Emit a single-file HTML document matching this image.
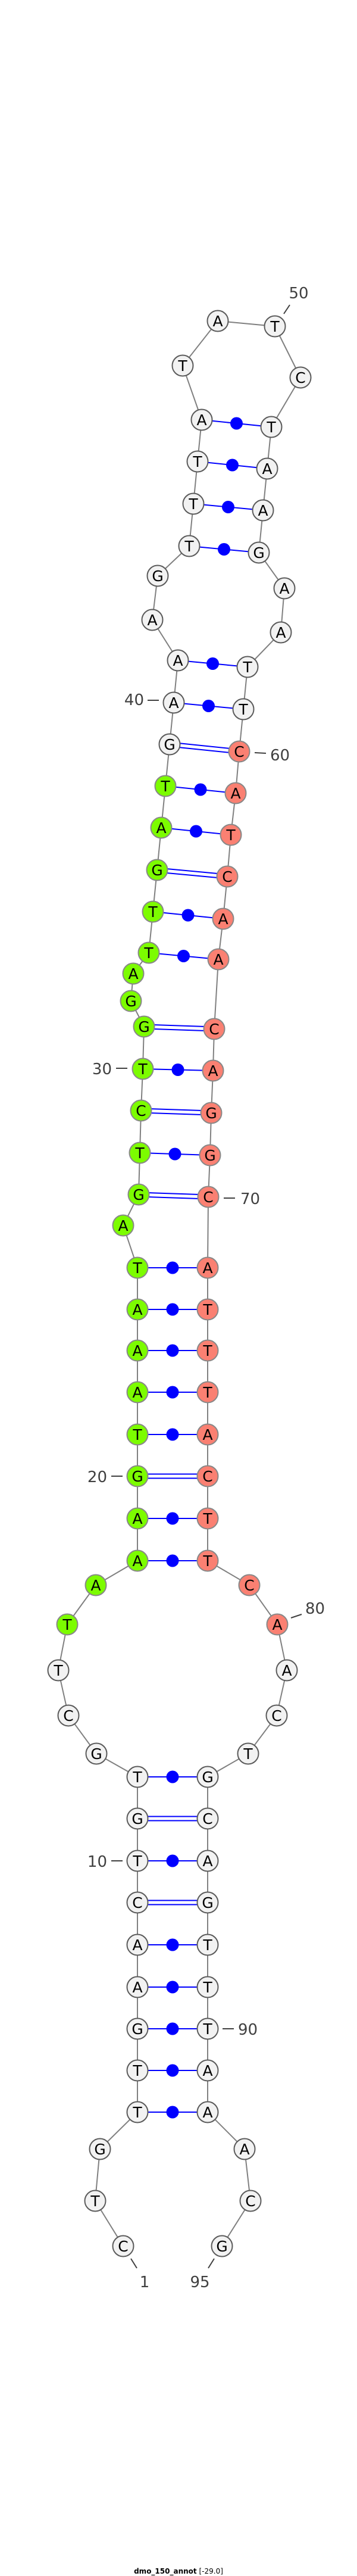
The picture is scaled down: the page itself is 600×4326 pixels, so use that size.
<!DOCTYPE html>
<html><head><meta charset="utf-8"><style>
html,body{margin:0;padding:0;background:#fff;}
svg{display:block;}
.n text{font-family:"DejaVu Sans","Liberation Sans",sans-serif;font-size:25px;text-anchor:middle;fill:#000;}
.lb{font-family:"DejaVu Sans","Liberation Sans",sans-serif;font-size:26px;fill:#404040;}
</style></head><body>
<svg width="600" height="4326" viewBox="0 0 600 4326" xmlns="http://www.w3.org/2000/svg">
<polyline fill="none" stroke="#808080" stroke-width="2" points="207,3772 160,3696 168,3609 231,3547 231,3477 231,3407 231,3337 231,3266 231,3195 231,3125 231,3054 231,2984 162,2945 115,2881 98,2805 113,2728 161,2662 231,2621 231,2550 231,2479 231,2409 231,2338 231,2268 231,2199 231,2129 207,2058 233,2006 235,1936 237,1865 240,1795 242,1724 220,1681 224,1635 250,1600 257,1531 264,1461 271,1390 278,1320 285,1250 292,1180 299,1109 256,1041 265,967 318,917 325,846 332,775 339,705 307,614 366,539 462,548 505,634 456,717 449,787 442,857 435,928 478,988 472,1062 416,1120 409,1191 402,1262 396,1332 388,1402 382,1472 375,1543 367,1611 360,1728 358,1798 355,1869 353,1940 350,2010 349,2129 349,2199 349,2268 349,2338 349,2409 349,2479 349,2550 349,2621 419,2662 466,2728 482,2805 465,2881 417,2945 349,2984 349,3054 349,3125 349,3195 349,3266 349,3337 349,3407 349,3477 349,3547 411,3609 421,3696 373,3772"/>
<g stroke="#0000ff" stroke-width="2">
<line x1="231" y1="3547" x2="349" y2="3547"/>
<line x1="231" y1="3477" x2="349" y2="3477"/>
<line x1="231" y1="3407" x2="349" y2="3407"/>
<line x1="231" y1="3337" x2="349" y2="3337"/>
<line x1="231" y1="3266" x2="349" y2="3266"/>
<line x1="231" y1="3125" x2="349" y2="3125"/>
<line x1="231" y1="2984" x2="349" y2="2984"/>
<line x1="231" y1="2621" x2="349" y2="2621"/>
<line x1="231" y1="2550" x2="349" y2="2550"/>
<line x1="231" y1="2409" x2="349" y2="2409"/>
<line x1="231" y1="2338" x2="349" y2="2338"/>
<line x1="231" y1="2268" x2="349" y2="2268"/>
<line x1="231" y1="2199" x2="349" y2="2199"/>
<line x1="231" y1="2129" x2="349" y2="2129"/>
<line x1="235" y1="1936" x2="353" y2="1940"/>
<line x1="240" y1="1795" x2="358" y2="1798"/>
<line x1="250" y1="1600" x2="367" y2="1611"/>
<line x1="257" y1="1531" x2="375" y2="1543"/>
<line x1="271" y1="1390" x2="388" y2="1402"/>
<line x1="278" y1="1320" x2="396" y2="1332"/>
<line x1="292" y1="1180" x2="409" y2="1191"/>
<line x1="299" y1="1109" x2="416" y2="1120"/>
<line x1="318" y1="917" x2="435" y2="928"/>
<line x1="325" y1="846" x2="442" y2="857"/>
<line x1="332" y1="775" x2="449" y2="787"/>
<line x1="339" y1="705" x2="456" y2="717"/>
<!-- GC double -->
<line x1="231" y1="3191.5" x2="349" y2="3191.5"/><line x1="231" y1="3198.5" x2="349" y2="3198.5"/>
<line x1="231" y1="3050.5" x2="349" y2="3050.5"/><line x1="231" y1="3057.5" x2="349" y2="3057.5"/>
<line x1="231" y1="2475.5" x2="349" y2="2475.5"/><line x1="231" y1="2482.5" x2="349" y2="2482.5"/>
<line x1="233" y1="2002.5" x2="350" y2="2006.5"/><line x1="233" y1="2009.5" x2="350" y2="2013.5"/>
<line x1="237" y1="1861.5" x2="355" y2="1865.5"/><line x1="237" y1="1868.5" x2="355" y2="1872.5"/>
<line x1="242" y1="1720.5" x2="360" y2="1724.5"/><line x1="242" y1="1727.5" x2="360" y2="1731.5"/>
<line x1="264" y1="1457.5" x2="382" y2="1468.5"/><line x1="264" y1="1464.5" x2="382" y2="1475.5"/>
<line x1="285" y1="1246.5" x2="402" y2="1258.5"/><line x1="285" y1="1253.5" x2="402" y2="1265.5"/>
</g>
<g fill="#0000ff">
<circle cx="290" cy="3547" r="10.5"/><circle cx="290" cy="3477" r="10.5"/><circle cx="290" cy="3407" r="10.5"/>
<circle cx="290" cy="3337" r="10.5"/><circle cx="290" cy="3266" r="10.5"/><circle cx="290" cy="3125" r="10.5"/>
<circle cx="290" cy="2984" r="10.5"/><circle cx="290" cy="2621" r="10.5"/><circle cx="290" cy="2550" r="10.5"/>
<circle cx="290" cy="2409" r="10.5"/><circle cx="290" cy="2338" r="10.5"/><circle cx="290" cy="2268" r="10.5"/>
<circle cx="290" cy="2199" r="10.5"/><circle cx="290" cy="2129" r="10.5"/>
<circle cx="294" cy="1938" r="10.5"/><circle cx="299" cy="1796.5" r="10.5"/>
<circle cx="308.5" cy="1605.5" r="10.5"/><circle cx="316" cy="1537" r="10.5"/>
<circle cx="329.5" cy="1396" r="10.5"/><circle cx="337" cy="1326" r="10.5"/>
<circle cx="350.5" cy="1185.5" r="10.5"/><circle cx="357.5" cy="1114.5" r="10.5"/>
<circle cx="376.5" cy="922.5" r="10.5"/><circle cx="383.5" cy="851.5" r="10.5"/>
<circle cx="390.5" cy="781" r="10.5"/><circle cx="397.5" cy="711" r="10.5"/>
</g>
<g class="n" stroke-width="2">
<g fill="#f2f2f2" stroke="#5a5a5a">
<circle cx="207" cy="3772" r="17.5"/><circle cx="160" cy="3696" r="17.5"/><circle cx="168" cy="3609" r="17.5"/>
<circle cx="231" cy="3547" r="17.5"/><circle cx="231" cy="3477" r="17.5"/><circle cx="231" cy="3407" r="17.5"/>
<circle cx="231" cy="3337" r="17.5"/><circle cx="231" cy="3266" r="17.5"/><circle cx="231" cy="3195" r="17.5"/>
<circle cx="231" cy="3125" r="17.5"/><circle cx="231" cy="3054" r="17.5"/><circle cx="231" cy="2984" r="17.5"/>
<circle cx="162" cy="2945" r="17.5"/><circle cx="115" cy="2881" r="17.5"/><circle cx="98" cy="2805" r="17.5"/>
<circle cx="285" cy="1250" r="17.5"/><circle cx="292" cy="1180" r="17.5"/><circle cx="299" cy="1109" r="17.5"/>
<circle cx="256" cy="1041" r="17.5"/><circle cx="265" cy="967" r="17.5"/><circle cx="318" cy="917" r="17.5"/>
<circle cx="325" cy="846" r="17.5"/><circle cx="332" cy="775" r="17.5"/><circle cx="339" cy="705" r="17.5"/>
<circle cx="307" cy="614" r="17.5"/><circle cx="366" cy="539" r="17.5"/><circle cx="462" cy="548" r="17.5"/>
<circle cx="505" cy="634" r="17.5"/><circle cx="456" cy="717" r="17.5"/><circle cx="449" cy="787" r="17.5"/>
<circle cx="442" cy="857" r="17.5"/><circle cx="435" cy="928" r="17.5"/><circle cx="478" cy="988" r="17.5"/>
<circle cx="472" cy="1062" r="17.5"/><circle cx="416" cy="1120" r="17.5"/><circle cx="409" cy="1191" r="17.5"/>
<circle cx="482" cy="2805" r="17.5"/><circle cx="465" cy="2881" r="17.5"/><circle cx="417" cy="2945" r="17.5"/>
<circle cx="349" cy="2984" r="17.5"/><circle cx="349" cy="3054" r="17.5"/><circle cx="349" cy="3125" r="17.5"/>
<circle cx="349" cy="3195" r="17.5"/><circle cx="349" cy="3266" r="17.5"/><circle cx="349" cy="3337" r="17.5"/>
<circle cx="349" cy="3407" r="17.5"/><circle cx="349" cy="3477" r="17.5"/><circle cx="349" cy="3547" r="17.5"/>
<circle cx="411" cy="3609" r="17.5"/><circle cx="421" cy="3696" r="17.5"/><circle cx="373" cy="3772" r="17.5"/>
</g>
<g fill="#7cfc00" stroke="#888888">
<circle cx="113" cy="2728" r="17.5"/><circle cx="161" cy="2662" r="17.5"/><circle cx="231" cy="2621" r="17.5"/>
<circle cx="231" cy="2550" r="17.5"/><circle cx="231" cy="2479" r="17.5"/><circle cx="231" cy="2409" r="17.5"/>
<circle cx="231" cy="2338" r="17.5"/><circle cx="231" cy="2268" r="17.5"/><circle cx="231" cy="2199" r="17.5"/>
<circle cx="231" cy="2129" r="17.5"/><circle cx="207" cy="2058" r="17.5"/><circle cx="233" cy="2006" r="17.5"/>
<circle cx="235" cy="1936" r="17.5"/><circle cx="237" cy="1865" r="17.5"/><circle cx="240" cy="1795" r="17.5"/>
<circle cx="242" cy="1724" r="17.5"/><circle cx="220" cy="1681" r="17.5"/><circle cx="224" cy="1635" r="17.5"/>
<circle cx="250" cy="1600" r="17.5"/><circle cx="257" cy="1531" r="17.5"/><circle cx="264" cy="1461" r="17.5"/>
<circle cx="271" cy="1390" r="17.5"/><circle cx="278" cy="1320" r="17.5"/>
</g>
<g fill="#fa8072" stroke="#888888">
<circle cx="402" cy="1262" r="17.5"/><circle cx="396" cy="1332" r="17.5"/><circle cx="388" cy="1402" r="17.5"/>
<circle cx="382" cy="1472" r="17.5"/><circle cx="375" cy="1543" r="17.5"/><circle cx="367" cy="1611" r="17.5"/>
<circle cx="360" cy="1728" r="17.5"/><circle cx="358" cy="1798" r="17.5"/><circle cx="355" cy="1869" r="17.5"/>
<circle cx="353" cy="1940" r="17.5"/><circle cx="350" cy="2010" r="17.5"/><circle cx="349" cy="2129" r="17.5"/>
<circle cx="349" cy="2199" r="17.5"/><circle cx="349" cy="2268" r="17.5"/><circle cx="349" cy="2338" r="17.5"/>
<circle cx="349" cy="2409" r="17.5"/><circle cx="349" cy="2479" r="17.5"/><circle cx="349" cy="2550" r="17.5"/>
<circle cx="349" cy="2621" r="17.5"/><circle cx="419" cy="2662" r="17.5"/><circle cx="466" cy="2728" r="17.5"/>
</g>
<g stroke="none">
<text x="207" y="3781">C</text><text x="160" y="3705">T</text><text x="168" y="3618">G</text>
<text x="231" y="3556">T</text><text x="231" y="3486">T</text><text x="231" y="3416">G</text>
<text x="231" y="3346">A</text><text x="231" y="3275">A</text><text x="231" y="3204">C</text>
<text x="231" y="3134">T</text><text x="231" y="3063">G</text><text x="231" y="2993">T</text>
<text x="162" y="2954">G</text><text x="115" y="2890">C</text><text x="98" y="2814">T</text>
<text x="113" y="2737">T</text><text x="161" y="2671">A</text><text x="231" y="2630">A</text>
<text x="231" y="2559">A</text><text x="231" y="2488">G</text><text x="231" y="2418">T</text>
<text x="231" y="2347">A</text><text x="231" y="2277">A</text><text x="231" y="2208">A</text>
<text x="231" y="2138">T</text><text x="207" y="2067">A</text><text x="233" y="2015">G</text>
<text x="235" y="1945">T</text><text x="237" y="1874">C</text><text x="240" y="1804">T</text>
<text x="242" y="1733">G</text><text x="220" y="1690">G</text><text x="224" y="1644">A</text>
<text x="250" y="1609">T</text><text x="257" y="1540">T</text><text x="264" y="1470">G</text>
<text x="271" y="1399">A</text><text x="278" y="1329">T</text><text x="285" y="1259">G</text>
<text x="292" y="1189">A</text><text x="299" y="1118">A</text><text x="256" y="1050">A</text>
<text x="265" y="976">G</text><text x="318" y="926">T</text><text x="325" y="855">T</text>
<text x="332" y="784">T</text><text x="339" y="714">A</text><text x="307" y="623">T</text>
<text x="366" y="548">A</text><text x="462" y="557">T</text><text x="505" y="643">C</text>
<text x="456" y="726">T</text><text x="449" y="796">A</text><text x="442" y="866">A</text>
<text x="435" y="937">G</text><text x="478" y="997">A</text><text x="472" y="1071">A</text>
<text x="416" y="1129">T</text><text x="409" y="1200">T</text><text x="402" y="1271">C</text>
<text x="396" y="1341">A</text><text x="388" y="1411">T</text><text x="382" y="1481">C</text>
<text x="375" y="1552">A</text><text x="367" y="1620">A</text><text x="360" y="1737">C</text>
<text x="358" y="1807">A</text><text x="355" y="1878">G</text><text x="353" y="1949">G</text>
<text x="350" y="2019">C</text><text x="349" y="2138">A</text><text x="349" y="2208">T</text>
<text x="349" y="2277">T</text><text x="349" y="2347">T</text><text x="349" y="2418">A</text>
<text x="349" y="2488">C</text><text x="349" y="2559">T</text><text x="349" y="2630">T</text>
<text x="419" y="2671">C</text><text x="466" y="2737">A</text><text x="482" y="2814">A</text>
<text x="465" y="2890">C</text><text x="417" y="2954">T</text><text x="349" y="2993">G</text>
<text x="349" y="3063">C</text><text x="349" y="3134">A</text><text x="349" y="3204">G</text>
<text x="349" y="3275">T</text><text x="349" y="3346">T</text><text x="349" y="3416">T</text>
<text x="349" y="3486">A</text><text x="349" y="3556">A</text><text x="411" y="3618">A</text>
<text x="421" y="3705">C</text><text x="373" y="3781">G</text>
</g>
</g>
<g stroke="#404040" stroke-width="2">
<line x1="487" y1="512" x2="477" y2="527"/>
<line x1="248" y1="1176" x2="267" y2="1176"/>
<line x1="428" y1="1264" x2="447" y2="1265"/>
<line x1="195" y1="1794" x2="214" y2="1794"/>
<line x1="376" y1="2012" x2="395" y2="2012"/>
<line x1="187" y1="2479" x2="206" y2="2479"/>
<line x1="489" y1="2717" x2="507" y2="2711"/>
<line x1="187" y1="3125" x2="206" y2="3125"/>
<line x1="374" y1="3407" x2="393" y2="3407"/>
<line x1="220" y1="3793" x2="230" y2="3809"/>
<line x1="360" y1="3793" x2="350" y2="3809"/>
</g>
<g class="lb">
<text x="502" y="501" text-anchor="middle">50</text>
<text x="242" y="1184" text-anchor="end">40</text>
<text x="454" y="1277">60</text>
<text x="188" y="1804" text-anchor="end">30</text>
<text x="404" y="2022">70</text>
<text x="180" y="2489" text-anchor="end">20</text>
<text x="513" y="2710">80</text>
<text x="180" y="3135" text-anchor="end">10</text>
<text x="400" y="3417">90</text>
<text x="243" y="3841" text-anchor="middle">1</text>
<text x="336" y="3841" text-anchor="middle">95</text>
</g>
<text x="300" y="4322" text-anchor="middle" style="font-family:'DejaVu Sans','Liberation Sans',sans-serif;font-size:12px;fill:#000"><tspan font-weight="bold">dmo_150_annot</tspan> [-29.0]</text>
</svg>
</body></html>
